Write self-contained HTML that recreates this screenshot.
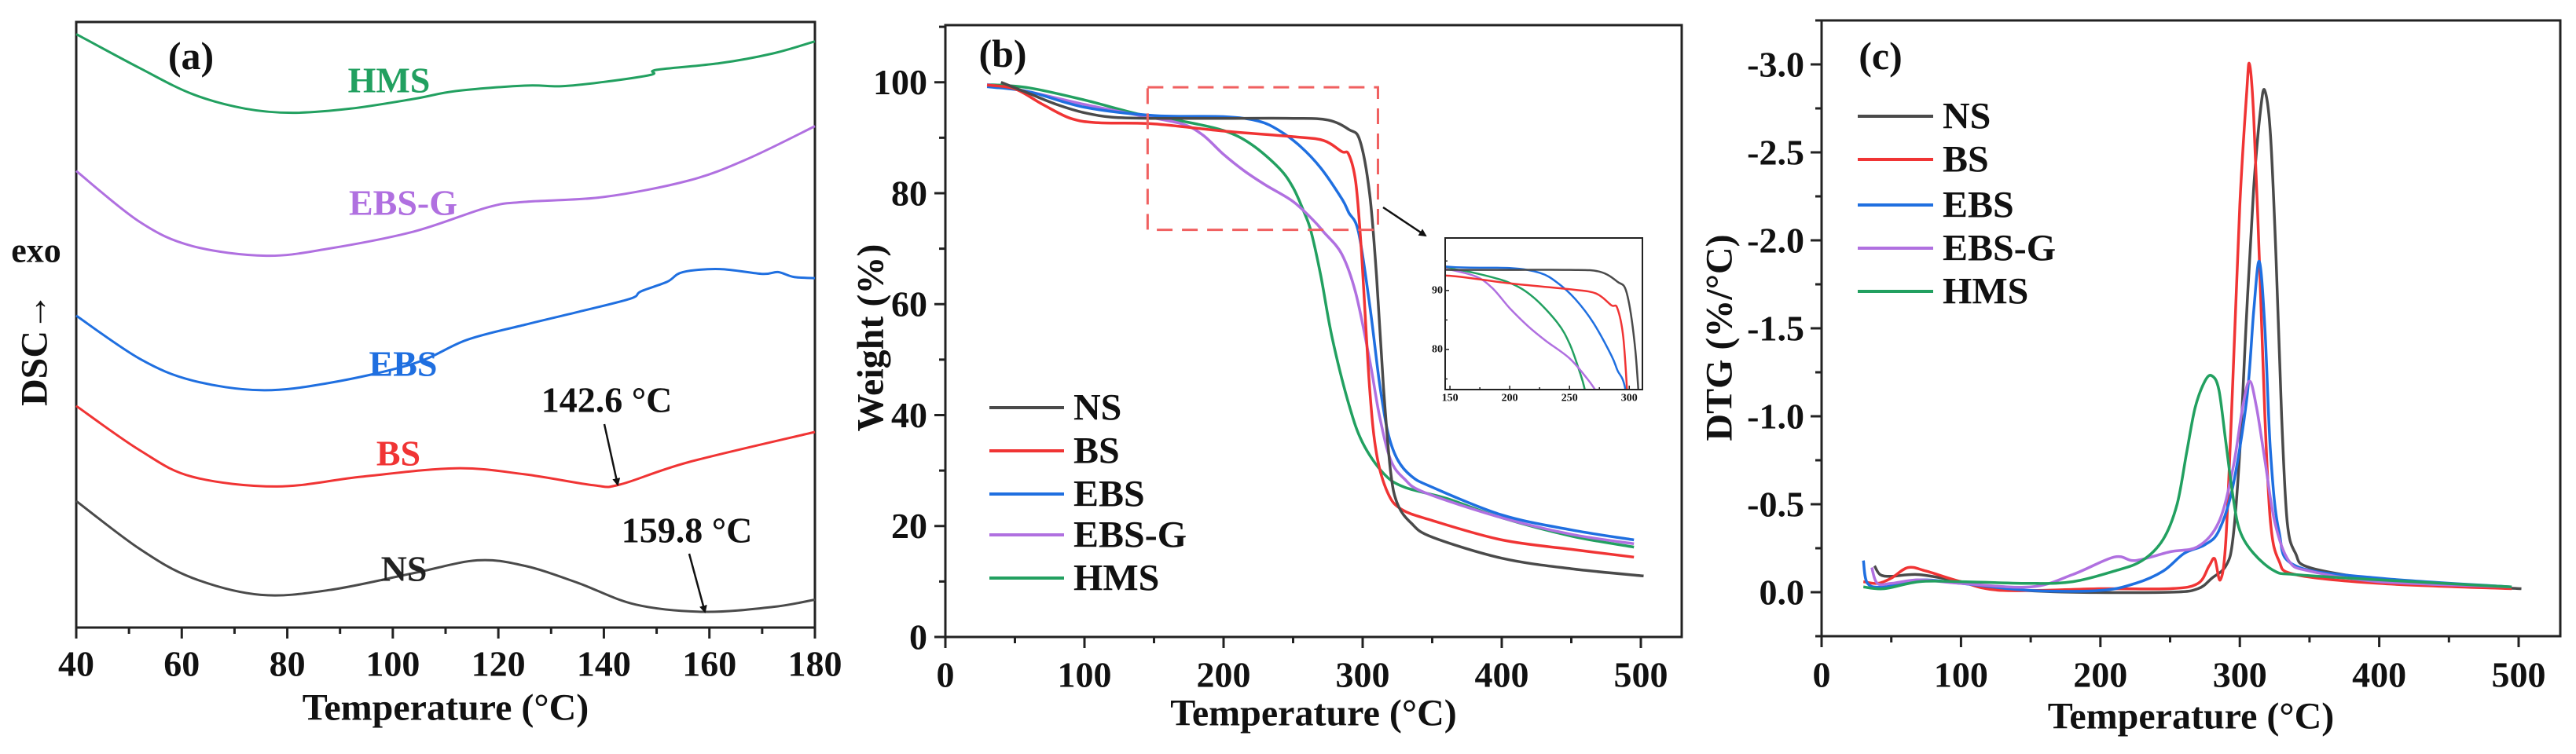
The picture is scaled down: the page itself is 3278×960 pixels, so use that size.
<!DOCTYPE html>
<html><head><meta charset="utf-8"><style>
html,body{margin:0;padding:0;background:#fff;}
svg{display:block;font-family:"Liberation Serif",serif;font-weight:bold;}
</style></head><body>
<svg id="fig" width="3278" height="960" viewBox="0 0 3278 960" xmlns="http://www.w3.org/2000/svg"></svg>
<script>
// ---- Panel (a) DSC data (arbitrary units, 0 bottom .. 100 top) ----
const dscNS_T = [40,52,62,75,88,104,116,125,135,146,159,172,180];
const dscNS_V = [20.9,13.0,8.2,5.4,6.2,9.0,11.1,10.2,7.4,3.8,2.6,3.4,4.6];
const dscBS_T = [40,52,62,78,94,112,125,138,143,156,180];
const dscBS_V = [36.6,29.3,24.9,23.3,24.9,26.3,25.3,23.5,23.6,27.3,32.3];
const dscEBS_T = [40,52,62,75,88,104,114,125,135,145,147,152,155,162,170,173,176,180];
const dscEBS_V = [51.5,44.4,40.8,39.2,40.4,43.6,47.5,50.0,52.1,54.3,55.5,57.1,58.7,59.2,58.4,58.7,57.9,57.7];
const dscEBSG_T = [40,52,62,76,88,104,118,125,140,156,167,180];
const dscEBSG_V = [75.4,67.0,63.0,61.4,62.6,65.4,69.4,70.3,71.1,73.8,77.3,82.8];
const dscHMS_T = [40,52,62,72,81,92,104,112,125,132,140,149,150,162,172,180];
const dscHMS_V = [98.0,92.4,88.1,85.7,85.0,85.7,87.3,88.6,89.5,89.4,90.1,91.3,92.1,93.2,94.8,96.8];
const dscTicks = [40,60,80,100,120,140,160,180];

// ---- Panel (b) TGA data ----
const tgNS_T = [40,60,80,100,120,150,200,250,275,290,298,305,310,315,320,325,335,350,400,450,502];
const tgNS_V = [100,98,96,94.5,93.7,93.5,93.5,93.5,93.2,91.5,89.5,80,65,45,30,24,20.5,18,14.2,12.3,11];
const tgBS_T = [30,50,70,90,110,150,200,250,272,285,290,295,299,305,310,318,328,350,400,450,495];
const tgBS_V = [99.5,98.8,96,93.5,92.7,92.5,91.2,90.2,89.5,87.5,87,82,70,45,33,26,23,21,17.5,15.8,14.4];
const tgEBS_T = [30,60,100,150,200,225,240,255,270,285,290,297,305,312,318,325,335,350,400,450,495];
const tgEBS_V = [99.2,98.3,95.5,94,93.8,93.0,91.3,88.5,84.5,79,76.5,73,60,46,37,32,29,27,22,19.3,17.5];
const tgEBSG_T = [30,60,100,140,170,185,200,215,230,250,265,272,285,295,305,312,320,330,345,400,450,495];
const tgEBSG_V = [99.6,98.3,96,94,92.5,90.5,87,84,81.5,78.5,75,73,69,62,50,40,32,28.5,26,21.5,18.5,16.8];
const tgHMS_T = [30,60,100,140,170,200,220,240,250,258,263,270,278,290,300,315,330,360,400,450,495];
const tgHMS_V = [99.6,99,96.8,94.2,93,91.3,88.8,84.5,81,76.5,73,65,54,42,35,29.5,27,25,21.5,18.2,16.2];
const tgXTicks = [0,100,200,300,400,500];
const tgYTicks = [0,20,40,60,80,100];
const insetXTicks = [150,200,250,300];
const insetYTicks = [80,90];

// ---- Panel (c) DTG data ----
const dtNS_T = [38,42,50,70,100,130,180,250,270,280,290,295,300,305,310,315,318,322,326,330,334,340,350,400,450,502];
const dtNS_V = [-0.15,-0.1,-0.09,-0.1,-0.06,-0.02,0,0,-0.02,-0.08,-0.15,-0.3,-0.8,-1.6,-2.3,-2.75,-2.85,-2.6,-1.9,-1.0,-0.4,-0.22,-0.14,-0.07,-0.04,-0.02];
const dtBS_T = [30,40,50,62,75,100,130,200,250,270,278,282,286,290,295,300,305,307,310,314,318,322,328,340,400,495];
const dtBS_V = [-0.06,-0.05,-0.08,-0.14,-0.12,-0.06,-0.01,-0.02,-0.02,-0.05,-0.15,-0.19,-0.07,-0.3,-1.2,-2.2,-2.85,-3.0,-2.7,-1.9,-1.0,-0.4,-0.18,-0.1,-0.05,-0.02];
const dtEBS_T = [30,33,45,70,100,150,200,225,245,260,275,285,295,305,310,314,318,322,328,340,400,495];
const dtEBS_V = [-0.18,-0.05,-0.03,-0.07,-0.05,-0.01,-0.01,-0.05,-0.12,-0.22,-0.27,-0.35,-0.6,-1.1,-1.6,-1.88,-1.5,-0.8,-0.35,-0.15,-0.08,-0.03];
const dtEBSG_T = [36,40,50,70,100,150,180,210,225,250,270,285,295,302,307,312,318,325,335,350,400,495];
const dtEBSG_V = [-0.14,-0.05,-0.05,-0.07,-0.05,-0.03,-0.1,-0.2,-0.18,-0.23,-0.26,-0.4,-0.7,-1.05,-1.2,-1.05,-0.75,-0.4,-0.18,-0.12,-0.06,-0.03];
const dtHMS_T = [30,45,70,100,150,180,210,230,245,255,262,268,275,280,285,290,295,300,310,325,340,400,495];
const dtHMS_V = [-0.03,-0.02,-0.06,-0.06,-0.05,-0.06,-0.12,-0.18,-0.3,-0.5,-0.8,-1.05,-1.2,-1.23,-1.15,-0.85,-0.55,-0.35,-0.22,-0.12,-0.1,-0.07,-0.03];
const dtXTicks = [0,100,200,300,400,500];
const dtYTicks = [0,-0.5,-1.0,-1.5,-2.0,-2.5,-3.0];
const seriesNames = ["NS","BS","EBS","EBS-G","HMS"];
</script>
<script>
const NS='http://www.w3.org/2000/svg';
const svg=document.getElementById('fig');
const COL={"NS":"#4a4a4a","BS":"#f03434","EBS":"#1f6fe0","EBS-G":"#b070e0","HMS":"#22a060"};
function mk(tag,attrs,parent){const e=document.createElementNS(NS,tag);for(const k in attrs)e.setAttribute(k,attrs[k]);(parent||svg).appendChild(e);return e;}
function txt(s,x,y,size,anchor,parent,fill){const t=mk('text',{x:x,y:y,'font-size':size,'text-anchor':anchor||'middle','dominant-baseline':'central',fill:fill||'#111'},parent);t.textContent=s;return t;}
function axis(x0,x1,y0,y1,xmin,xmax,ymin,ymax){return {sx:v=>x0+(v-xmin)/(xmax-xmin)*(x1-x0),sy:v=>y1-(v-ymin)/(ymax-ymin)*(y1-y0)};}
function smoothPath(P){
 if(P.length<3){return P.map((p,i)=>(i?'L':'M')+p[0].toFixed(1)+','+p[1].toFixed(1)).join('');}
 let d='M'+P[0][0].toFixed(1)+','+P[0][1].toFixed(1);
 const k=1/6;
 for(let i=0;i<P.length-1;i++){
  const p0=P[Math.max(0,i-1)],p1=P[i],p2=P[i+1],p3=P[Math.min(P.length-1,i+2)];
  const c1x=p1[0]+(p2[0]-p0[0])*k,c1y=p1[1]+(p2[1]-p0[1])*k;
  const c2x=p2[0]-(p3[0]-p1[0])*k,c2y=p2[1]-(p3[1]-p1[1])*k;
  d+='C'+c1x.toFixed(1)+','+c1y.toFixed(1)+' '+c2x.toFixed(1)+','+c2y.toFixed(1)+' '+p2[0].toFixed(1)+','+p2[1].toFixed(1);
 }
 return d;
}
function line(ax,T,V,color,w,parent){const P=T.map((t,i)=>[ax.sx(t),ax.sy(V[i])]);return mk('path',{d:smoothPath(P),fill:'none',stroke:color,'stroke-width':w||3.5,'stroke-linejoin':'round'},parent);}
function frame(x0,y0,x1,y1,parent,w){return mk('rect',{x:x0,y:y0,width:x1-x0,height:y1-y0,fill:'none',stroke:'#222','stroke-width':w||3},parent);}
function clip(id,x0,y0,x1,y1){const d=mk('defs',{});const c=mk('clipPath',{id:id},d);mk('rect',{x:x0,y:y0,width:x1-x0,height:y1-y0},c);}

// ===== Panel (a) =====
(function(){
 const g=mk('g',{});
 
 
 const X0=97,X1=1037,Y0=28,Y1=799;
 const ax=axis(X0,X1,Y0,Y1,40,180,0,100);
 frame(X0,Y0,X1,Y1,g);
 for(let t=40;t<=180;t+=10){const maj=dscTicks.includes(t);mk('line',{x1:ax.sx(t),x2:ax.sx(t),y1:Y1,y2:Y1+(maj?14:8),stroke:'#222','stroke-width':3},g);}
 dscTicks.forEach(t=>{const e=txt(String(t),ax.sx(t),845,46,'middle',g);});
 const xt=txt('Temperature (°C)',(X0+X1)/2,901,48,'middle',g);
 
 const yt=txt('DSC→',0,0,48,'middle',g);yt.setAttribute('transform','translate(44,445) rotate(-90)');
 
 const ex=txt('exo',46,319,44,'middle',g);
 const pl=txt('(a)',243,71,50,'middle',g);
 const sets=[["NS",dscNS_T,dscNS_V,514,724],["BS",dscBS_T,dscBS_V,507,577],["EBS",dscEBS_T,dscEBS_V,513,463],["EBS-G",dscEBSG_T,dscEBSG_V,513,258],["HMS",dscHMS_T,dscHMS_V,495,102]];
 sets.forEach(s=>{const p=line(ax,s[1],s[2],COL[s[0]],3,g);
  const l=txt(s[0],s[3],s[4],46,'middle',g,s[0]==='NS'?'#222':COL[s[0]]);});
 const a1=txt('142.6 °C',772,509,46,'middle',g);
 const a2=txt('159.8 °C',874,675,46,'middle',g);
 const d=mk('defs',{},g);const m=mk('marker',{id:'ah',markerWidth:10,markerHeight:10,refX:8,refY:5,orient:'auto',markerUnits:'userSpaceOnUse'},d);mk('path',{d:'M0,0 L10,5 L0,10 z',fill:'#111'},m);
 const ar1=mk('line',{x1:769,y1:540,x2:786,y2:617,stroke:'#111','stroke-width':2.5,'marker-end':'url(#ah)'},g);
 const ar2=mk('line',{x1:877,y1:705,x2:897,y2:779,stroke:'#111','stroke-width':2.5,'marker-end':'url(#ah)'},g);
})();

// ===== Panel (b) =====
(function(){
 const g=mk('g',{});
 
 
 const X0=1203,X1=2140,Y0=32,Y1=811;
 const ax=axis(X0,X1,Y0,Y1,0,500*(X1-X0)/(2088-X0),0,110.3);
 frame(X0,Y0,X1,Y1,g);
 for(let t=0;t<=500;t+=50){const maj=t%100===0;mk('line',{x1:ax.sx(t),x2:ax.sx(t),y1:Y1,y2:Y1+(maj?14:8),stroke:'#222','stroke-width':3},g);}
 for(let v=0;v<=110;v+=10){const maj=v%20===0;mk('line',{x1:X0,x2:X0-(maj?14:8),y1:ax.sy(v),y2:ax.sy(v),stroke:'#222','stroke-width':3},g);}
 tgXTicks.forEach(t=>{const e=txt(String(t),ax.sx(t),859,46,'middle',g);});
 tgYTicks.forEach(v=>{const e=txt(String(v),1180,ax.sy(v),46,'end',g);});
 const xt=txt('Temperature (°C)',(X0+X1)/2,908,48,'middle',g);
 const yt=txt('Weight (%)',0,0,48,'middle',g);yt.setAttribute('transform','translate(1108,430) rotate(-90)');
 const pl=txt('(b)',1276,68,50,'middle',g);
 const sets=[["NS",tgNS_T,tgNS_V],["BS",tgBS_T,tgBS_V],["EBS",tgEBS_T,tgEBS_V],["EBS-G",tgEBSG_T,tgEBSG_V],["HMS",tgHMS_T,tgHMS_V]];
 const order=[4,3,2,1,0];
 order.forEach(i=>{const s=sets[i];const p=line(ax,s[1],s[2],COL[s[0]],3.5,g);});
 const zb=mk('rect',{x:ax.sx(145.4),y:ax.sy(99.1),width:ax.sx(311)-ax.sx(145.4),height:ax.sy(73.4)-ax.sy(99.1),fill:'none',stroke:'#f06060','stroke-width':3,'stroke-dasharray':'20,12'},g);
 
 const d=mk('defs',{},g);const m=mk('marker',{id:'ah2',markerWidth:10,markerHeight:10,refX:8,refY:5,orient:'auto',markerUnits:'userSpaceOnUse'},d);mk('path',{d:'M0,0 L10,5 L0,10 z',fill:'#111'},m);
 const ar=mk('line',{x1:1760,y1:264,x2:1814,y2:300,stroke:'#111','stroke-width':2.5,'marker-end':'url(#ah2)'},g);
 sets.forEach((s,i)=>{const y=[519,574,629,681,736][i];
  const ll=mk('line',{x1:1259,x2:1354,y1:y,y2:y,stroke:COL[s[0]],'stroke-width':4},g);
  const lt=txt(s[0],1366,y,48,'start',g);});
 const IX0=1839,IX1=2090,IY0=303,IY1=496;
 const ig=mk('g',{},g);
 mk('rect',{x:IX0,y:IY0,width:IX1-IX0,height:IY1-IY0,fill:'#fff'},ig);
 const iax=axis(IX0,IX1,IY0,IY1,146,311,73.2,98.9);
 clip('insclip',IX0,IY0,IX1,IY1);
 const cg=mk('g',{'clip-path':'url(#insclip)'},ig);
 order.forEach(i=>{const s=sets[i];const p=line(iax,s[1],s[2],COL[s[0]],2.5,cg);});
 frame(IX0,IY0,IX1,IY1,ig,2);
 for(let t=150;t<=300;t+=25){mk('line',{x1:iax.sx(t),x2:iax.sx(t),y1:IY1,y2:IY1-(t%50===0?5:3),stroke:'#222','stroke-width':1.5},ig);}
 for(let v=75;v<=95;v+=5){mk('line',{x1:IX0,x2:IX0+(v%10===0?5:3),y1:iax.sy(v),y2:iax.sy(v),stroke:'#222','stroke-width':1.5},ig);}
 insetXTicks.forEach(t=>{const e=txt(String(t),iax.sx(t),507,14,'middle',ig);});
 insetYTicks.forEach(v=>{const e=txt(String(v),IX0-3,iax.sy(v),14,'end',ig);});
})();

// ===== Panel (c) =====
(function(){
 const g=mk('g',{});
 
 
 const X0=2318,X1=3258,Y0=26,Y1=810;
 const xmax=500*(X1-X0)/(3205-X0);
 const ax=axis(X0,X1,Y0,Y1,0,xmax,0.25,-3.25);
 frame(X0,Y0,X1,Y1,g);
 for(let t=0;t<=500;t+=50){const maj=t%100===0;mk('line',{x1:ax.sx(t),x2:ax.sx(t),y1:Y1,y2:Y1+(maj?14:8),stroke:'#222','stroke-width':3},g);}
 for(let v=0.25;v>=-3.25;v-=0.25){const maj=Math.abs((v*2)-Math.round(v*2))<1e-6;mk('line',{x1:X0,x2:X0-(maj?14:8),y1:ax.sy(v),y2:ax.sy(v),stroke:'#222','stroke-width':3},g);}
 dtXTicks.forEach(t=>{const e=txt(String(t),ax.sx(t),859,46,'middle',g);});
 dtYTicks.forEach(v=>{const e=txt(v.toFixed(1),2296,ax.sy(v),46,'end',g);});
 const xt=txt('Temperature (°C)',(X0+X1)/2,912,48,'middle',g);
 const yt=txt('DTG (%/°C)',0,0,48,'middle',g);yt.setAttribute('transform','translate(2188,430) rotate(-90)');
 const pl=txt('(c)',2393,71,50,'middle',g);
 const sets=[["NS",dtNS_T,dtNS_V],["BS",dtBS_T,dtBS_V],["EBS",dtEBS_T,dtEBS_V],["EBS-G",dtEBSG_T,dtEBSG_V],["HMS",dtHMS_T,dtHMS_V]];
 sets.forEach(s=>{const p=line(ax,s[1],s[2],COL[s[0]],3.5,g);});
 sets.forEach((s,i)=>{const y=[148,203,261,316,371][i];
  const ll=mk('line',{x1:2364,x2:2460,y1:y,y2:y,stroke:COL[s[0]],'stroke-width':4},g);
  const lt=txt(s[0],2472,y,48,'start',g);});
})();
</script>
</body></html>
